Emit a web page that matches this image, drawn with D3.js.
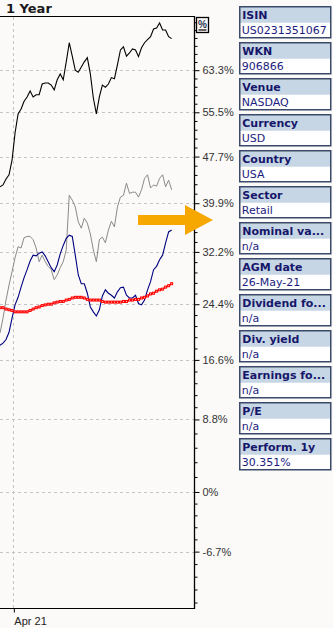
<!DOCTYPE html>
<html>
<head>
<meta charset="utf-8">
<script src="https://cdn.jsdelivr.net/npm/d3@7"></script>
<style>
  html, body { margin: 0; padding: 0; background: #fbfaf8; }
  svg { display: block; }
</style>
</head>
<body>
<svg id="chart" width="333" height="628"></svg>
<script>
// weekly closes, performance in %
const startDate = new Date(2020, 2, 21);
const endDate = new Date(2021, 5, 15);
const xTickDates = [new Date(2020, 3, 21)];
const yTickLabels = [-6.7, 0, 8.8, 16.6, 24.4, 32.2, 39.9, 47.7, 55.5, 63.3];

const blackSeries = [42.6, 42.9, 43.9, 44.6, 47.1, 51.8, 55.2, 56.1, 57.5, 58.3,
  59.4, 58.3, 58.7, 58.7, 60.7, 60.9, 60.9, 60.5, 59.6, 61.5,
  62.6, 61.5, 64.9, 68.6, 66.0, 63.3, 62.9, 63.9, 64.9, 65.7,
  62.6, 58.1, 55.2, 58.3, 60.5, 60.1, 60.7, 61.9, 61.7, 64.3,
  67.2, 67.8, 66.0, 66.6, 67.4, 67.2, 65.9, 67.6, 68.6, 69.2,
  69.8, 71.3, 71.5, 72.5, 71.1, 71.1, 69.8, 69.4];

const graySeries = [20.3, 22.4, 25.0, 27.2, 29.2, 31.3, 33.0, 32.8, 34.4, 34.6,
  34.6, 34.1, 32.8, 30.7, 31.7, 30.7, 30.0, 29.5, 28.0, 28.7,
  29.8, 30.7, 32.5, 41.2, 40.4, 39.3, 36.9, 35.9, 37.5, 36.7,
  35.0, 32.5, 30.7, 34.1, 34.5, 33.6, 35.6, 37.0, 36.1, 39.3,
  40.9, 41.2, 43.2, 41.5, 41.7, 41.7, 40.9, 42.1, 44.0, 44.6,
  42.4, 42.9, 42.7, 44.0, 44.6, 42.6, 43.7, 42.1];

const blueSeries = [18.6, 18.9, 19.4, 20.4, 22.4, 24.3, 25.4, 26.9, 28.3, 29.5,
  30.8, 31.7, 31.6, 32.0, 32.2, 31.6, 30.7, 29.8, 29.2, 30.2,
  31.9, 33.2, 34.3, 34.8, 34.6, 31.7, 28.7, 27.4, 27.4, 26.0,
  24.0, 23.3, 22.7, 23.6, 25.6, 26.5, 26.0, 25.7, 25.3, 26.2,
  26.8, 26.9, 25.7, 25.3, 25.3, 25.7, 24.5, 24.3, 25.0, 26.5,
  27.7, 29.5, 30.0, 31.0, 31.7, 33.6, 35.3, 35.6];

// moving average
const redSeries = [23.9, 23.9, 23.7, 23.6, 23.5, 23.3, 23.3, 23.3, 23.3, 23.3,
  23.5, 23.7, 23.9, 24.0, 24.2, 24.3, 24.4, 24.4, 24.6, 24.7,
  24.8, 24.8, 25.0, 25.1, 25.3, 25.4, 25.4, 25.4, 25.3, 25.1,
  25.0, 25.0, 25.0, 25.0, 24.8, 24.7, 24.7, 24.7, 24.7, 24.7,
  24.7, 24.8, 24.8, 25.0, 25.0, 25.1, 25.1, 25.3, 25.4, 25.6,
  25.9, 26.0, 26.3, 26.5, 26.6, 26.9, 27.1, 27.4];

const infoLabels = ["ISIN", "WKN", "Venue", "Currency", "Country", "Sector",
  "Nominal va...", "AGM date", "Dividend fo...", "Div. yield", "Earnings fo...", "P/E", "Perform. 1y"];
const infoValues = ["US0231351067", "906866", "NASDAQ", "USD", "USA", "Retail",
  "n/a", "26-May-21", "n/a", "n/a", "n/a", "n/a", "30.351%"];

const weeks = d3.range(blackSeries.length).map(i => d3.timeDay.offset(startDate, 7 * i));

const svg = d3.select("#chart");
const plotL = 0, plotR = 194, plotT = 17, plotB = 608;
const axisFont = "'Liberation Sans', Arial, sans-serif";
const boxFont = "'DejaVu Sans', Verdana, sans-serif";

const x = d3.scaleTime().domain([startDate, endDate]).range([plotL, plotR]);
// log scale on (1 + p)
const yLog = d3.scaleLog().domain([1 - 0.1262, 1 + 0.7372]).range([plotB, plotT]);
const y = p => yLog(1 + p / 100);

svg.append("clipPath").attr("id", "plot")
  .append("rect").attr("x", plotL).attr("y", plotT).attr("width", plotR - plotL).attr("height", plotB - plotT);

// title
svg.append("text")
  .attr("x", 6).attr("y", 13)
  .style("font", "bold 13px " + boxFont)
  .attr("fill", "#1a1a1a")
  .text("1 Year");

// grid
const grid = svg.append("g").attr("stroke", "#c4c4c4").attr("stroke-dasharray", "3,3");
grid.selectAll("line.h").data(yTickLabels).enter().append("line")
  .attr("x1", plotL).attr("x2", plotR)
  .attr("y1", d => Math.round(y(d)) + 0.5).attr("y2", d => Math.round(y(d)) + 0.5);
grid.selectAll("line.v").data(xTickDates).enter().append("line")
  .attr("x1", d => Math.round(x(d)) + 0.5).attr("x2", d => Math.round(x(d)) + 0.5)
  .attr("y1", plotT).attr("y2", plotB);

// series
const line = d3.line().x((d, i) => x(weeks[i])).y(d => y(d));
const plot = svg.append("g").attr("clip-path", "url(#plot)");

plot.append("path").datum(graySeries)
  .attr("fill", "none").attr("stroke", "#8a8a8a").attr("stroke-width", 1).attr("d", line);
plot.append("path").datum(blueSeries)
  .attr("fill", "none").attr("stroke", "#000080").attr("stroke-width", 1.1).attr("d", line);
plot.append("path").datum(blackSeries)
  .attr("fill", "none").attr("stroke", "#000").attr("stroke-width", 1.1).attr("d", line);
plot.append("path").datum(redSeries)
  .attr("fill", "none").attr("stroke", "#ff0000").attr("stroke-width", 1.5).attr("d", line);
plot.append("g").selectAll("rect").data(redSeries).enter().append("rect")
  .attr("x", (d, i) => x(weeks[i]) - 1).attr("y", d => y(d) - 1)
  .attr("width", 2).attr("height", 2)
  .attr("fill", "#ffc8c8").attr("stroke", "#ff0000").attr("stroke-width", 1);

// frame
svg.append("line").attr("x1", plotL).attr("x2", plotR + 0.5).attr("y1", plotT - 0.5).attr("y2", plotT - 0.5)
  .attr("stroke", "#000");
svg.append("line").attr("x1", plotL).attr("x2", plotR + 0.5).attr("y1", plotB + 0.5).attr("y2", plotB + 0.5)
  .attr("stroke", "#000");
svg.append("line").attr("x1", plotR + 0.5).attr("x2", plotR + 0.5).attr("y1", plotT - 1).attr("y2", plotB + 1)
  .attr("stroke", "#000").attr("stroke-width", 1.3);

// y axis
const fmt = p => (p === 0 ? "0" : p.toFixed(1)) + "%";
const yAxis = d3.axisRight(yLog)
  .tickValues(yTickLabels.map(p => 1 + p / 100))
  .tickFormat((d, i) => fmt(yTickLabels[i]))
  .tickSize(5).tickPadding(3);
const yg = svg.append("g").attr("transform", `translate(${plotR + 0.5},0)`).call(yAxis);
yg.select(".domain").remove();
yg.selectAll("text").style("font", "11px " + axisFont).attr("fill", "#333");

const minor = [];
for (let i = 0; i < yTickLabels.length - 1; i++) {
  const a = yTickLabels[i], b = yTickLabels[i + 1];
  for (let k = 1; k < 5; k++) minor.push(a + (b - a) * k / 5);
}
const lowStep = (yTickLabels[1] - yTickLabels[0]) / 5;
for (let v = yTickLabels[0] - lowStep; y(v) < plotB - 2; v -= lowStep) minor.push(v);
const n = yTickLabels.length;
const highStep = (yTickLabels[n - 1] - yTickLabels[n - 2]) / 5;
for (let v = yTickLabels[n - 1] + highStep; y(v) > plotT + 2; v += highStep) minor.push(v);

const minorAxis = d3.axisRight(yLog).tickValues(minor.map(p => 1 + p / 100)).tickFormat("").tickSize(3);
const mg = svg.append("g").attr("transform", `translate(${plotR + 0.5},0)`).call(minorAxis);
mg.select(".domain").remove();

// x axis
const xAxis = d3.axisBottom(x).tickValues(xTickDates).tickFormat(d3.timeFormat("%b %d")).tickSize(4).tickPadding(5);
const xg = svg.append("g").attr("transform", `translate(0.5,${plotB + 0.5})`).call(xAxis);
xg.select(".domain").remove();
xg.selectAll("text").attr("text-anchor", "start").style("font", "11px " + axisFont).attr("fill", "#222");

// % toggle box
const pct = svg.append("g").attr("transform", "translate(196.5,17.5)");
pct.append("rect").attr("width", 12).attr("height", 15).attr("fill", "#fbfaf8")
  .attr("stroke", "#000").attr("stroke-width", 1.3);
pct.append("text").attr("x", 6).attr("y", 10.5).attr("text-anchor", "middle")
  .style("font", "bold 10px " + axisFont).attr("fill", "#2a3550").text("%");
pct.append("line").attr("x1", 2).attr("x2", 10).attr("y1", 12.5).attr("y2", 12.5)
  .attr("stroke", "#000").attr("stroke-width", 1.2);

// orange arrow
svg.append("path")
  .attr("d", "M138,215 L185,215 L185,205 L213,220 L185,235 L185,225 L138,225 Z")
  .attr("fill", "#f6a800");

// info panel
const boxes = svg.append("g").selectAll("g").data(infoLabels).enter().append("g")
  .attr("transform", (d, i) => `translate(239.75,${6.75 + 36 * i})`);
boxes.append("rect").attr("width", 91).attr("height", 31).attr("fill", "#fff");
boxes.append("rect").attr("width", 91).attr("height", 16).attr("fill", "#c7d6e5");
boxes.append("rect").attr("width", 91).attr("height", 31).attr("fill", "none")
  .attr("stroke", "#3b4a6a").attr("stroke-width", 1.5);
boxes.append("text").attr("x", 2.5).attr("y", 12.5)
  .style("font", "bold 11px " + boxFont).attr("fill", "#16166a").text(d => d);
boxes.append("text").attr("x", 2).attr("y", 27.5)
  .style("font", "11px " + boxFont).attr("fill", "#1c1c80").text((d, i) => infoValues[i]);
</script>
</body>
</html>
